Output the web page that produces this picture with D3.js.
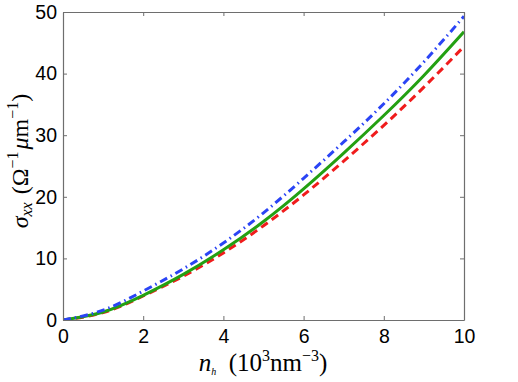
<!DOCTYPE html>
<html>
<head>
<meta charset="utf-8">
<script src="https://cdn.jsdelivr.net/npm/d3@7"></script>
<style>
  body { margin: 0; background: #fff; }
  svg { display: block; }
</style>
</head>
<body>
<div class="svg"></div>
<script>
var nh = [0, 1, 2, 3, 4, 5, 6, 7, 8, 9, 10];
var redDashed = [0, 1.2, 3.9, 7.1, 10.9, 15.3, 20.3, 25.8, 31.6, 37.8, 44.4];
var greenSolid = [0, 1.3, 4.0, 7.4, 11.4, 16.0, 21.3, 27.1, 33.2, 39.7, 46.8];
var blueDashDot = [0, 1.6, 4.7, 8.3, 12.5, 17.4, 23.0, 28.9, 35.1, 41.9, 49.3];
var xTicks = [0, 2, 4, 6, 8, 10];
var yTicks = [0, 10, 20, 30, 40, 50];

var w = 518, h = 382;
var margin = {top: 12, right: 54, bottom: 62, left: 63};
var width = w - margin.left - margin.right;
var height = h - margin.top - margin.bottom;

var svg = d3.select(".svg").append("svg").attr("width", w).attr("height", h);
var chart = svg.append("g").attr("transform", "translate(" + margin.left + "," + margin.top + ")");

var xScale = d3.scaleLinear().domain([0, 10]).range([0, width]);
var yScale = d3.scaleLinear().domain([0, 50]).range([height, 0]);

svg.append("defs").append("clipPath").attr("id", "clip")
   .append("rect").attr("x", 0).attr("y", 0).attr("width", width).attr("height", height);

var series = [
  {values: redDashed, color: "#f01c1c", dash: "8,5", width: 3},
  {values: greenSolid, color: "#23a012", dash: null, width: 3},
  {values: blueDashDot, color: "#2a44f5", dash: "8,4,1.5,4", width: 3}
];

var line = d3.line()
  .x(function(d, i) { return xScale(nh[i]); })
  .y(function(d) { return yScale(d); })
  .curve(d3.curveNatural);

chart.append("g").attr("clip-path", "url(#clip)")
  .selectAll(".series")
  .data(series)
  .enter()
  .append("path")
  .attr("class", "series")
  .attr("fill", "none")
  .attr("stroke", function(d) { return d.color; })
  .attr("stroke-width", function(d) { return d.width; })
  .attr("stroke-dasharray", function(d) { return d.dash; })
  .attr("d", function(d) { return line(d.values); });

// axes (matlab box with inward ticks on all sides)
var axisColor = "#6e6e6e";
var xAxis = d3.axisBottom(xScale).tickValues(xTicks).tickSizeInner(-4).tickSizeOuter(0).tickPadding(7);
var yAxis = d3.axisLeft(yScale).tickValues(yTicks).tickSizeInner(-4).tickSizeOuter(0).tickPadding(6);
var xTop = d3.axisTop(xScale).tickValues(xTicks).tickSizeInner(-4).tickSizeOuter(0).tickFormat("");
var yRight = d3.axisRight(yScale).tickValues(yTicks).tickSizeInner(-4).tickSizeOuter(0).tickFormat("");

var gx = chart.append("g").attr("transform", "translate(0," + height + ")").call(xAxis);
var gy = chart.append("g").call(yAxis);
var gt = chart.append("g").call(xTop);
var gr = chart.append("g").attr("transform", "translate(" + width + ",0)").call(yRight);

[gx, gy, gt, gr].forEach(function(g) {
  g.select(".domain").attr("stroke", axisColor).attr("stroke-width", 1.2);
  g.selectAll(".tick line").attr("stroke", axisColor);
  g.selectAll(".tick text")
   .attr("fill", "#000")
   .style("font-family", "'Liberation Sans', Arial, sans-serif")
   .style("font-size", "19.5px");
});
gx.selectAll(".tick text").attr("dy", "0.8em");

// x label: n_h (10^3 nm^-3)
var serif = "'Liberation Serif', 'Times New Roman', serif";
var xl = svg.append("text")
  .attr("x", 263)
  .attr("y", 371)
  .attr("text-anchor", "middle")
  .style("font-family", serif)
  .style("font-size", "25px")
  .attr("fill", "#000");
xl.append("tspan").style("font-style", "italic").text("n");
xl.append("tspan").style("font-style", "italic").style("font-size", "10px").attr("dy", 4).text("h");
xl.append("tspan").attr("dy", -4).text("\u2002(10");
xl.append("tspan").style("font-size", "16px").attr("dy", -10).text("3");
xl.append("tspan").attr("dy", 10).text("nm");
xl.append("tspan").style("font-size", "16px").attr("dy", -10).text("\u22123");
xl.append("tspan").attr("dy", 10).text(")");

// y label: sigma_xx (Ohm^-1 mum^-1)
var yl = svg.append("text")
  .attr("transform", "translate(28,161) rotate(-90)")
  .attr("text-anchor", "middle")
  .style("font-family", serif)
  .style("font-size", "24px")
  .attr("fill", "#000");
yl.append("tspan").style("font-style", "italic").text("\u03c3");
yl.append("tspan").style("font-style", "italic").style("font-size", "16px").attr("dy", 4).text("xx");
yl.append("tspan").attr("dy", -4).attr("dx", 8).text("(\u03a9");
yl.append("tspan").style("font-size", "16px").attr("dy", -10).text("\u22121");
yl.append("tspan").style("font-style", "italic").attr("dy", 10).attr("dx", 2).text("\u03bc");
yl.append("tspan").text("m");
yl.append("tspan").style("font-size", "16px").attr("dy", -10).text("\u22121");
yl.append("tspan").attr("dy", 10).text(")");
</script>
</body>
</html>
